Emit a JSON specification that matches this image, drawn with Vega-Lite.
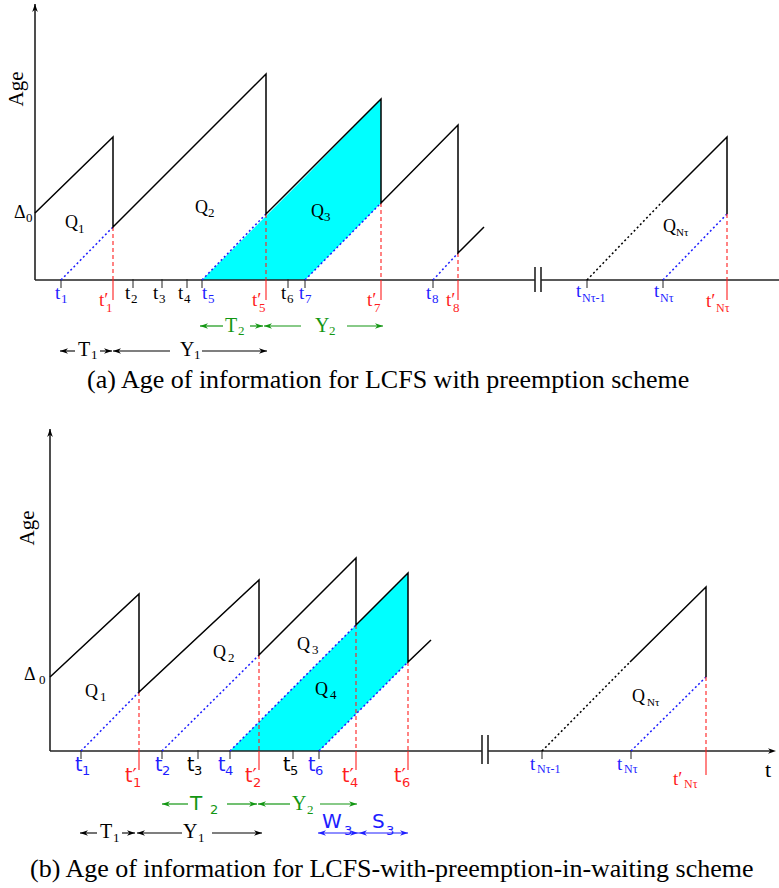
{
  "$schema": "https://vega.github.io/schema/vega-lite/v6.json",
  "padding": 0,
  "spacing": 0,
  "bounds": "flush",
  "config": {"view": {"stroke": null}},
  "datasets": {
    "segA": [
      {"t":0,"a":276,"t2":0,"a2":0,"k":"axis"},
      {"t":0,"a":0,"t2":500,"a2":0,"k":"axis"},
      {"t":506,"a":0,"t2":744,"a2":0,"k":"axis"},
      {"t":500,"a":13,"t2":500,"a2":-12,"k":"axis"},
      {"t":506,"a":13,"t2":506,"a2":-12,"k":"axis"},
      {"t":26,"a":1,"t2":26,"a2":-8,"k":"tick"},
      {"t":98,"a":1,"t2":98,"a2":-8,"k":"tick"},
      {"t":127,"a":1,"t2":127,"a2":-8,"k":"tick"},
      {"t":152,"a":1,"t2":152,"a2":-8,"k":"tick"},
      {"t":167,"a":1,"t2":167,"a2":-8,"k":"tick"},
      {"t":253,"a":1,"t2":253,"a2":-8,"k":"tick"},
      {"t":270,"a":1,"t2":270,"a2":-8,"k":"tick"},
      {"t":398,"a":1,"t2":398,"a2":-8,"k":"tick"},
      {"t":552,"a":1,"t2":552,"a2":-8,"k":"tick"},
      {"t":628,"a":1,"t2":628,"a2":-8,"k":"tick"},
      {"t":26,"a":0,"t2":78,"a2":53,"k":"bdot"},
      {"t":167,"a":0,"t2":231,"a2":66,"k":"bdot"},
      {"t":270,"a":0,"t2":346,"a2":77,"k":"bdot"},
      {"t":398,"a":0,"t2":423,"a2":27,"k":"bdot"},
      {"t":628,"a":0,"t2":692,"a2":66,"k":"bdot"},
      {"t":552,"a":0,"t2":628,"a2":79,"k":"kdot"},
      {"t":78,"a":53,"t2":78,"a2":0,"k":"rdash"},
      {"t":231,"a":66,"t2":231,"a2":0,"k":"rdash"},
      {"t":346,"a":77,"t2":346,"a2":0,"k":"rdash"},
      {"t":423,"a":27,"t2":423,"a2":0,"k":"rdash"},
      {"t":692,"a":66,"t2":692,"a2":0,"k":"rdash"},
      {"t":78,"a":0,"t2":78,"a2":-20,"k":"rsol"},
      {"t":231,"a":0,"t2":231,"a2":-20,"k":"rsol"},
      {"t":346,"a":0,"t2":346,"a2":-20,"k":"rsol"},
      {"t":423,"a":0,"t2":423,"a2":-20,"k":"rsol"},
      {"t":692,"a":0,"t2":692,"a2":-20,"k":"rsol"},
      {"t":165,"a":-46,"t2":188,"a2":-46,"k":"garr"},
      {"t":215,"a":-46,"t2":228,"a2":-46,"k":"garr"},
      {"t":229,"a":-46,"t2":266,"a2":-46,"k":"garr"},
      {"t":312,"a":-46,"t2":348,"a2":-46,"k":"garr"},
      {"t":25,"a":-71,"t2":40,"a2":-71,"k":"karr"},
      {"t":65,"a":-71,"t2":77,"a2":-71,"k":"karr"},
      {"t":78,"a":-71,"t2":135,"a2":-71,"k":"karr"},
      {"t":167,"a":-71,"t2":232,"a2":-71,"k":"karr"}
    ],
    "ageA": [
      {"g":"run","o":1,"t":0,"a":67},
      {"g":"run","o":2,"t":78,"a":143},
      {"g":"run","o":3,"t":78,"a":53},
      {"g":"run","o":4,"t":231,"a":206},
      {"g":"run","o":5,"t":231,"a":66},
      {"g":"run","o":6,"t":346,"a":181},
      {"g":"run","o":7,"t":346,"a":77},
      {"g":"run","o":8,"t":423,"a":155},
      {"g":"run","o":9,"t":423,"a":27},
      {"g":"run","o":10,"t":449,"a":53},
      {"g":"end","o":1,"t":628,"a":79},
      {"g":"end","o":2,"t":692,"a":143},
      {"g":"end","o":3,"t":692,"a":66}
    ],
    "cyanA": [
      {"t":167,"a":0,"a2":0},
      {"t":270,"a":103,"a2":0},
      {"t":346,"a":181,"a2":77}
    ],
    "headA": [
      {"t":0,"a":276,"d":"U","c":"ink"},
      {"t":165,"a":-46,"d":"L","c":"green"},
      {"t":228,"a":-46,"d":"R","c":"green"},
      {"t":229,"a":-46,"d":"L","c":"green"},
      {"t":348,"a":-46,"d":"R","c":"green"},
      {"t":25,"a":-71,"d":"L","c":"ink"},
      {"t":77,"a":-71,"d":"R","c":"ink"},
      {"t":78,"a":-71,"d":"L","c":"ink"},
      {"t":232,"a":-71,"d":"R","c":"ink"}
    ],
    "textA": [
      {"t":20,"a":-19,"s":"t","c":"blue","z":"label","f":"serif"},
      {"t":26,"a":-23,"s":"1","c":"blue","z":"index","f":"serif"},
      {"t":64,"a":-26,"s":"t′","c":"red","z":"label","f":"serif"},
      {"t":71,"a":-32,"s":"1","c":"red","z":"index","f":"serif"},
      {"t":90,"a":-19,"s":"t","c":"ink","z":"label","f":"serif"},
      {"t":96,"a":-23,"s":"2","c":"ink","z":"index","f":"serif"},
      {"t":118,"a":-19,"s":"t","c":"ink","z":"label","f":"serif"},
      {"t":124,"a":-23,"s":"3","c":"ink","z":"index","f":"serif"},
      {"t":143,"a":-19,"s":"t","c":"ink","z":"label","f":"serif"},
      {"t":149,"a":-23,"s":"4","c":"ink","z":"index","f":"serif"},
      {"t":167,"a":-19,"s":"t","c":"blue","z":"label","f":"serif"},
      {"t":173,"a":-23,"s":"5","c":"blue","z":"index","f":"serif"},
      {"t":217,"a":-26,"s":"t′","c":"red","z":"label","f":"serif"},
      {"t":224,"a":-32,"s":"5","c":"red","z":"index","f":"serif"},
      {"t":246,"a":-19,"s":"t","c":"ink","z":"label","f":"serif"},
      {"t":252,"a":-23,"s":"6","c":"ink","z":"index","f":"serif"},
      {"t":264,"a":-19,"s":"t","c":"blue","z":"label","f":"serif"},
      {"t":270,"a":-23,"s":"7","c":"blue","z":"index","f":"serif"},
      {"t":332,"a":-26,"s":"t′","c":"red","z":"label","f":"serif"},
      {"t":339,"a":-32,"s":"7","c":"red","z":"index","f":"serif"},
      {"t":391,"a":-19,"s":"t","c":"blue","z":"label","f":"serif"},
      {"t":397,"a":-23,"s":"8","c":"blue","z":"index","f":"serif"},
      {"t":411,"a":-26,"s":"t′","c":"red","z":"label","f":"serif"},
      {"t":418,"a":-32,"s":"8","c":"red","z":"index","f":"serif"},
      {"t":541,"a":-17,"s":"t","c":"blue","z":"label","f":"serif"},
      {"t":547,"a":-22,"s":"Nτ-1","c":"blue","z":"nindex","f":"serif"},
      {"t":619,"a":-17,"s":"t","c":"blue","z":"label","f":"serif"},
      {"t":625,"a":-22,"s":"Nτ","c":"blue","z":"nindex","f":"serif"},
      {"t":671,"a":-27,"s":"t′","c":"red","z":"label","f":"serif"},
      {"t":681,"a":-32,"s":"Nτ","c":"red","z":"nindex","f":"serif"},
      {"t":30,"a":52,"s":"Q","c":"ink","z":"region","f":"serif"},
      {"t":43,"a":47,"s":"1","c":"ink","z":"index","f":"serif"},
      {"t":160,"a":67,"s":"Q","c":"ink","z":"region","f":"serif"},
      {"t":173,"a":63,"s":"2","c":"ink","z":"index","f":"serif"},
      {"t":276,"a":63,"s":"Q","c":"ink","z":"region","f":"serif"},
      {"t":289,"a":59,"s":"3","c":"ink","z":"index","f":"serif"},
      {"t":628,"a":48,"s":"Q","c":"ink","z":"region","f":"serif"},
      {"t":641,"a":44,"s":"Nτ","c":"ink","z":"tiny","f":"serif"},
      {"t":-21,"a":62,"s":"Δ","c":"ink","z":"region","f":"serif"},
      {"t":-9,"a":58,"s":"0","c":"ink","z":"index","f":"serif"},
      {"t":190,"a":-52,"s":"T","c":"green","z":"letter","f":"serif"},
      {"t":203,"a":-55,"s":"2","c":"green","z":"index","f":"serif"},
      {"t":280,"a":-52,"s":"Y","c":"green","z":"letter","f":"serif"},
      {"t":294,"a":-55,"s":"2","c":"green","z":"index","f":"serif"},
      {"t":43,"a":-76,"s":"T","c":"ink","z":"letter","f":"serif"},
      {"t":56,"a":-79,"s":"1","c":"ink","z":"index","f":"serif"},
      {"t":145,"a":-76,"s":"Y","c":"ink","z":"letter","f":"serif"},
      {"t":159,"a":-79,"s":"1","c":"ink","z":"index","f":"serif"},
      {"t":52,"a":-108,"s":"(a) Age of information for LCFS with preemption scheme","c":"ink","z":"caption","f":"serif"},
      {"t":-18,"a":191,"s":"Age","c":"ink","z":"age","f":"rot"}
    ],
    "segB": [
      {"t":0,"a":322,"t2":0,"a2":0,"k":"axis"},
      {"t":0,"a":0,"t2":432,"a2":0,"k":"axis"},
      {"t":438,"a":0,"t2":722,"a2":0,"k":"axis"},
      {"t":432,"a":16,"t2":432,"a2":-13,"k":"axis"},
      {"t":438,"a":16,"t2":438,"a2":-13,"k":"axis"},
      {"t":31,"a":1,"t2":31,"a2":-8,"k":"tick"},
      {"t":112,"a":1,"t2":112,"a2":-8,"k":"tick"},
      {"t":148,"a":1,"t2":148,"a2":-8,"k":"tick"},
      {"t":180,"a":1,"t2":180,"a2":-8,"k":"tick"},
      {"t":243,"a":1,"t2":243,"a2":-8,"k":"tick"},
      {"t":269,"a":1,"t2":269,"a2":-8,"k":"tick"},
      {"t":492,"a":1,"t2":492,"a2":-8,"k":"tick"},
      {"t":581,"a":1,"t2":581,"a2":-8,"k":"tick"},
      {"t":31,"a":0,"t2":89,"a2":59,"k":"bdot"},
      {"t":112,"a":0,"t2":209,"a2":96,"k":"bdot"},
      {"t":180,"a":0,"t2":306,"a2":126,"k":"bdot"},
      {"t":269,"a":0,"t2":358,"a2":89,"k":"bdot"},
      {"t":581,"a":0,"t2":656,"a2":74,"k":"bdot"},
      {"t":492,"a":0,"t2":580,"a2":89,"k":"kdot"},
      {"t":89,"a":59,"t2":89,"a2":0,"k":"rdash"},
      {"t":209,"a":96,"t2":209,"a2":0,"k":"rdash"},
      {"t":306,"a":126,"t2":306,"a2":0,"k":"rdash"},
      {"t":358,"a":89,"t2":358,"a2":0,"k":"rdash"},
      {"t":656,"a":74,"t2":656,"a2":0,"k":"rdash"},
      {"t":89,"a":0,"t2":89,"a2":-19,"k":"rsol"},
      {"t":209,"a":0,"t2":209,"a2":-19,"k":"rsol"},
      {"t":306,"a":0,"t2":306,"a2":-19,"k":"rsol"},
      {"t":358,"a":0,"t2":358,"a2":-19,"k":"rsol"},
      {"t":656,"a":0,"t2":656,"a2":-24,"k":"rsol"},
      {"t":112,"a":-53,"t2":138,"a2":-53,"k":"garr"},
      {"t":177,"a":-53,"t2":207,"a2":-53,"k":"garr"},
      {"t":208,"a":-53,"t2":240,"a2":-53,"k":"garr"},
      {"t":270,"a":-53,"t2":307,"a2":-53,"k":"garr"},
      {"t":30,"a":-82,"t2":47,"a2":-82,"k":"karr"},
      {"t":72,"a":-82,"t2":85,"a2":-82,"k":"karr"},
      {"t":87,"a":-82,"t2":132,"a2":-82,"k":"karr"},
      {"t":162,"a":-82,"t2":212,"a2":-82,"k":"karr"},
      {"t":268,"a":-82,"t2":308,"a2":-82,"k":"barr"},
      {"t":308,"a":-82,"t2":358,"a2":-82,"k":"barr"}
    ],
    "ageB": [
      {"g":"run","o":1,"t":0,"a":74},
      {"g":"run","o":2,"t":89,"a":157},
      {"g":"run","o":3,"t":89,"a":59},
      {"g":"run","o":4,"t":209,"a":171},
      {"g":"run","o":5,"t":209,"a":96},
      {"g":"run","o":6,"t":306,"a":193},
      {"g":"run","o":7,"t":306,"a":126},
      {"g":"run","o":8,"t":358,"a":178},
      {"g":"run","o":9,"t":358,"a":89},
      {"g":"run","o":10,"t":381,"a":111},
      {"g":"end","o":1,"t":580,"a":89},
      {"g":"end","o":2,"t":656,"a":164},
      {"g":"end","o":3,"t":656,"a":74}
    ],
    "cyanB": [
      {"t":180,"a":0,"a2":0},
      {"t":269,"a":89,"a2":0},
      {"t":358,"a":178,"a2":89}
    ],
    "headB": [
      {"t":0,"a":322,"d":"U","c":"ink"},
      {"t":726,"a":0,"d":"R","c":"ink"},
      {"t":112,"a":-53,"d":"L","c":"green"},
      {"t":207,"a":-53,"d":"R","c":"green"},
      {"t":208,"a":-53,"d":"L","c":"green"},
      {"t":307,"a":-53,"d":"R","c":"green"},
      {"t":30,"a":-82,"d":"L","c":"ink"},
      {"t":85,"a":-82,"d":"R","c":"ink"},
      {"t":87,"a":-82,"d":"L","c":"ink"},
      {"t":212,"a":-82,"d":"R","c":"ink"},
      {"t":268,"a":-82,"d":"L","c":"blue"},
      {"t":308,"a":-82,"d":"R","c":"blue"},
      {"t":309,"a":-82,"d":"L","c":"blue"},
      {"t":358,"a":-82,"d":"R","c":"blue"}
    ],
    "textB": [
      {"t":25,"a":-20,"s":"t","c":"blue","z":"slabel","f":"sans"},
      {"t":32,"a":-24,"s":"1","c":"blue","z":"sindex","f":"sans"},
      {"t":75,"a":-31,"s":"t′","c":"red","z":"slabel","f":"sans"},
      {"t":83,"a":-36,"s":"1","c":"red","z":"sindex","f":"sans"},
      {"t":105,"a":-20,"s":"t","c":"blue","z":"slabel","f":"sans"},
      {"t":112,"a":-24,"s":"2","c":"blue","z":"sindex","f":"sans"},
      {"t":137,"a":-20,"s":"t","c":"ink","z":"slabel","f":"sans"},
      {"t":144,"a":-24,"s":"3","c":"ink","z":"sindex","f":"sans"},
      {"t":168,"a":-20,"s":"t","c":"blue","z":"slabel","f":"sans"},
      {"t":175,"a":-24,"s":"4","c":"blue","z":"sindex","f":"sans"},
      {"t":195,"a":-31,"s":"t′","c":"red","z":"slabel","f":"sans"},
      {"t":203,"a":-36,"s":"2","c":"red","z":"sindex","f":"sans"},
      {"t":233,"a":-20,"s":"t","c":"ink","z":"slabel","f":"sans"},
      {"t":240,"a":-24,"s":"5","c":"ink","z":"sindex","f":"sans"},
      {"t":258,"a":-20,"s":"t","c":"blue","z":"slabel","f":"sans"},
      {"t":265,"a":-24,"s":"6","c":"blue","z":"sindex","f":"sans"},
      {"t":292,"a":-31,"s":"t′","c":"red","z":"slabel","f":"sans"},
      {"t":300,"a":-36,"s":"4","c":"red","z":"sindex","f":"sans"},
      {"t":344,"a":-31,"s":"t′","c":"red","z":"slabel","f":"sans"},
      {"t":352,"a":-36,"s":"6","c":"red","z":"sindex","f":"sans"},
      {"t":140,"a":-59,"s":"T","c":"green","z":"letter","f":"sans"},
      {"t":160,"a":-63,"s":"2","c":"green","z":"sindex","f":"sans"},
      {"t":272,"a":-77,"s":"W","c":"blue","z":"letter","f":"sans"},
      {"t":294,"a":-84,"s":"3","c":"blue","z":"sindex","f":"sans"},
      {"t":322,"a":-77,"s":"S","c":"blue","z":"letter","f":"sans"},
      {"t":336,"a":-84,"s":"3","c":"blue","z":"sindex","f":"sans"},
      {"t":480,"a":-19,"s":"t","c":"blue","z":"label","f":"serif"},
      {"t":487,"a":-22,"s":"Nτ-1","c":"blue","z":"nindex","f":"serif"},
      {"t":567,"a":-19,"s":"t","c":"blue","z":"label","f":"serif"},
      {"t":574,"a":-22,"s":"Nτ","c":"blue","z":"nindex","f":"serif"},
      {"t":623,"a":-34,"s":"t′","c":"red","z":"label","f":"serif"},
      {"t":634,"a":-37,"s":"Nτ","c":"red","z":"nindex","f":"serif"},
      {"t":715,"a":-26,"s":"t","c":"ink","z":"axis","f":"serif"},
      {"t":35,"a":54,"s":"Q","c":"ink","z":"region","f":"serif"},
      {"t":50,"a":50,"s":"1","c":"ink","z":"index","f":"serif"},
      {"t":163,"a":93,"s":"Q","c":"ink","z":"region","f":"serif"},
      {"t":178,"a":89,"s":"2","c":"ink","z":"index","f":"serif"},
      {"t":247,"a":101,"s":"Q","c":"ink","z":"region","f":"serif"},
      {"t":262,"a":97,"s":"3","c":"ink","z":"index","f":"serif"},
      {"t":265,"a":56,"s":"Q","c":"ink","z":"region","f":"serif"},
      {"t":280,"a":52,"s":"4","c":"ink","z":"index","f":"serif"},
      {"t":582,"a":49,"s":"Q","c":"ink","z":"region","f":"serif"},
      {"t":597,"a":45,"s":"Nτ","c":"ink","z":"tiny","f":"serif"},
      {"t":-26,"a":71,"s":"Δ","c":"ink","z":"region","f":"serif"},
      {"t":-11,"a":67,"s":"0","c":"ink","z":"index","f":"serif"},
      {"t":242,"a":-59,"s":"Y","c":"green","z":"letter","f":"serif"},
      {"t":257,"a":-63,"s":"2","c":"green","z":"index","f":"serif"},
      {"t":50,"a":-87,"s":"T","c":"ink","z":"letter","f":"serif"},
      {"t":63,"a":-91,"s":"1","c":"ink","z":"index","f":"serif"},
      {"t":133,"a":-87,"s":"Y","c":"ink","z":"letter","f":"serif"},
      {"t":148,"a":-91,"s":"1","c":"ink","z":"index","f":"serif"},
      {"t":-20,"a":-126,"s":"(b) Age of information for LCFS-with-preemption-in-waiting scheme","c":"ink","z":"caption","f":"serif"},
      {"t":-22,"a":223,"s":"Age","c":"ink","z":"age","f":"rot"}
    ]
  },
  "vconcat": [
    {
      "width": 779,
      "height": 415,
      "encoding": {
        "x": {"field": "t", "type": "quantitative", "scale": {"domain": [-35, 744], "nice": false, "zero": false}, "axis": null},
        "y": {"field": "a", "type": "quantitative", "scale": {"domain": [-135, 280], "nice": false, "zero": false}, "axis": null}
      },
      "layer": [
        {"data": {"name": "cyanA"}, "mark": {"type": "area", "color": "#00ffff", "opacity": 1}, "encoding": {"y2": {"field": "a2"}}},
        {"data": {"name": "segA"}, "transform": [{"filter": "datum.k === 'axis'"}], "mark": {"type": "rule", "color": "#222222", "strokeWidth": 1.6}, "encoding": {"x2": {"field": "t2"}, "y2": {"field": "a2"}}},
        {"data": {"name": "segA"}, "transform": [{"filter": "datum.k === 'tick'"}], "mark": {"type": "rule", "color": "#222222", "strokeWidth": 1}, "encoding": {"x2": {"field": "t2"}, "y2": {"field": "a2"}}},
        {"data": {"name": "segA"}, "transform": [{"filter": "datum.k === 'bdot'"}], "mark": {"type": "rule", "color": "#1e1eff", "strokeWidth": 1.5, "strokeDash": [2, 2.5]}, "encoding": {"x2": {"field": "t2"}, "y2": {"field": "a2"}}},
        {"data": {"name": "segA"}, "transform": [{"filter": "datum.k === 'kdot'"}], "mark": {"type": "rule", "color": "#000000", "strokeWidth": 1.5, "strokeDash": [2, 2.5]}, "encoding": {"x2": {"field": "t2"}, "y2": {"field": "a2"}}},
        {"data": {"name": "segA"}, "transform": [{"filter": "datum.k === 'rdash'"}], "mark": {"type": "rule", "color": "#ff1e1e", "strokeWidth": 1.1, "strokeDash": [4, 3]}, "encoding": {"x2": {"field": "t2"}, "y2": {"field": "a2"}}},
        {"data": {"name": "segA"}, "transform": [{"filter": "datum.k === 'rsol'"}], "mark": {"type": "rule", "color": "#ff1e1e", "strokeWidth": 1.1}, "encoding": {"x2": {"field": "t2"}, "y2": {"field": "a2"}}},
        {"data": {"name": "segA"}, "transform": [{"filter": "datum.k === 'garr'"}], "mark": {"type": "rule", "color": "#129612", "strokeWidth": 1.2}, "encoding": {"x2": {"field": "t2"}, "y2": {"field": "a2"}}},
        {"data": {"name": "segA"}, "transform": [{"filter": "datum.k === 'karr'"}], "mark": {"type": "rule", "color": "#000000", "strokeWidth": 1.1}, "encoding": {"x2": {"field": "t2"}, "y2": {"field": "a2"}}},
        {"data": {"name": "ageA"}, "mark": {"type": "line", "color": "#000000", "strokeWidth": 1.5}, "encoding": {"detail": {"field": "g", "type": "nominal"}, "order": {"field": "o", "type": "quantitative"}}},
        {"data": {"name": "headA"}, "mark": {"type": "point", "filled": true, "size": 64, "opacity": 1, "strokeWidth": 0},
         "encoding": {
           "shape": {"field": "d", "type": "nominal", "scale": {"domain": ["R", "L", "U"], "range": ["M0,0L-2,-0.7L-1.4,0L-2,0.7Z", "M0,0L2,-0.7L1.4,0L2,0.7Z", "M0,0L-0.7,2L0,1.4L0.7,2Z"]}, "legend": null},
           "color": {"field": "c", "type": "nominal", "scale": {"domain": ["ink", "blue", "red", "green"], "range": ["#000000", "#1e1eff", "#ff1e1e", "#129612"]}, "legend": null}
         }},
        {"data": {"name": "textA"}, "transform": [{"filter": "datum.f === 'serif'"}], "mark": {"type": "text", "font": "Liberation Serif", "align": "left", "baseline": "alphabetic"},
         "encoding": {
           "text": {"field": "s"},
           "color": {"field": "c", "type": "nominal", "scale": {"domain": ["ink", "blue", "red", "green"], "range": ["#000000", "#1e1eff", "#ff1e1e", "#129612"]}, "legend": null},
           "size": {"field": "z", "type": "nominal", "scale": {"type": "ordinal", "domain": ["label", "index", "nindex", "tiny", "region", "letter", "caption", "age", "axis", "slabel", "sindex"], "range": [19, 13, 12, 11, 18, 20, 26, 21, 22, 19, 13]}, "legend": null}
         }},
        {"data": {"name": "textA"}, "transform": [{"filter": "datum.f === 'rot'"}], "mark": {"type": "text", "font": "Liberation Serif", "align": "center", "baseline": "middle", "angle": 270},
         "encoding": {
           "text": {"field": "s"},
           "color": {"field": "c", "type": "nominal", "scale": {"domain": ["ink", "blue", "red", "green"], "range": ["#000000", "#1e1eff", "#ff1e1e", "#129612"]}, "legend": null},
           "size": {"field": "z", "type": "nominal", "scale": {"type": "ordinal", "domain": ["label", "index", "nindex", "tiny", "region", "letter", "caption", "age", "axis", "slabel", "sindex"], "range": [19, 13, 12, 11, 18, 20, 26, 21, 22, 19, 13]}, "legend": null}
         }}
      ]
    },
    {
      "width": 779,
      "height": 473,
      "encoding": {
        "x": {"field": "t", "type": "quantitative", "scale": {"domain": [-50, 729], "nice": false, "zero": false}, "axis": null},
        "y": {"field": "a", "type": "quantitative", "scale": {"domain": [-137, 336], "nice": false, "zero": false}, "axis": null}
      },
      "layer": [
        {"data": {"name": "cyanB"}, "mark": {"type": "area", "color": "#00ffff", "opacity": 1}, "encoding": {"y2": {"field": "a2"}}},
        {"data": {"name": "segB"}, "transform": [{"filter": "datum.k === 'axis'"}], "mark": {"type": "rule", "color": "#222222", "strokeWidth": 1.6}, "encoding": {"x2": {"field": "t2"}, "y2": {"field": "a2"}}},
        {"data": {"name": "segB"}, "transform": [{"filter": "datum.k === 'tick'"}], "mark": {"type": "rule", "color": "#222222", "strokeWidth": 1}, "encoding": {"x2": {"field": "t2"}, "y2": {"field": "a2"}}},
        {"data": {"name": "segB"}, "transform": [{"filter": "datum.k === 'bdot'"}], "mark": {"type": "rule", "color": "#1e1eff", "strokeWidth": 1.5, "strokeDash": [2, 2.5]}, "encoding": {"x2": {"field": "t2"}, "y2": {"field": "a2"}}},
        {"data": {"name": "segB"}, "transform": [{"filter": "datum.k === 'kdot'"}], "mark": {"type": "rule", "color": "#000000", "strokeWidth": 1.5, "strokeDash": [2, 2.5]}, "encoding": {"x2": {"field": "t2"}, "y2": {"field": "a2"}}},
        {"data": {"name": "segB"}, "transform": [{"filter": "datum.k === 'rdash'"}], "mark": {"type": "rule", "color": "#ff1e1e", "strokeWidth": 1.1, "strokeDash": [4, 3]}, "encoding": {"x2": {"field": "t2"}, "y2": {"field": "a2"}}},
        {"data": {"name": "segB"}, "transform": [{"filter": "datum.k === 'rsol'"}], "mark": {"type": "rule", "color": "#ff1e1e", "strokeWidth": 1.1}, "encoding": {"x2": {"field": "t2"}, "y2": {"field": "a2"}}},
        {"data": {"name": "segB"}, "transform": [{"filter": "datum.k === 'garr'"}], "mark": {"type": "rule", "color": "#129612", "strokeWidth": 1.2}, "encoding": {"x2": {"field": "t2"}, "y2": {"field": "a2"}}},
        {"data": {"name": "segB"}, "transform": [{"filter": "datum.k === 'karr'"}], "mark": {"type": "rule", "color": "#000000", "strokeWidth": 1.1}, "encoding": {"x2": {"field": "t2"}, "y2": {"field": "a2"}}},
        {"data": {"name": "segB"}, "transform": [{"filter": "datum.k === 'barr'"}], "mark": {"type": "rule", "color": "#1e1eff", "strokeWidth": 1.1}, "encoding": {"x2": {"field": "t2"}, "y2": {"field": "a2"}}},
        {"data": {"name": "ageB"}, "mark": {"type": "line", "color": "#000000", "strokeWidth": 1.5}, "encoding": {"detail": {"field": "g", "type": "nominal"}, "order": {"field": "o", "type": "quantitative"}}},
        {"data": {"name": "headB"}, "mark": {"type": "point", "filled": true, "size": 64, "opacity": 1, "strokeWidth": 0},
         "encoding": {
           "shape": {"field": "d", "type": "nominal", "scale": {"domain": ["R", "L", "U"], "range": ["M0,0L-2,-0.7L-1.4,0L-2,0.7Z", "M0,0L2,-0.7L1.4,0L2,0.7Z", "M0,0L-0.7,2L0,1.4L0.7,2Z"]}, "legend": null},
           "color": {"field": "c", "type": "nominal", "scale": {"domain": ["ink", "blue", "red", "green"], "range": ["#000000", "#1e1eff", "#ff1e1e", "#129612"]}, "legend": null}
         }},
        {"data": {"name": "textB"}, "transform": [{"filter": "datum.f === 'serif'"}], "mark": {"type": "text", "font": "Liberation Serif", "align": "left", "baseline": "alphabetic"},
         "encoding": {
           "text": {"field": "s"},
           "color": {"field": "c", "type": "nominal", "scale": {"domain": ["ink", "blue", "red", "green"], "range": ["#000000", "#1e1eff", "#ff1e1e", "#129612"]}, "legend": null},
           "size": {"field": "z", "type": "nominal", "scale": {"type": "ordinal", "domain": ["label", "index", "nindex", "tiny", "region", "letter", "caption", "age", "axis", "slabel", "sindex"], "range": [20, 14, 12, 11, 21, 21, 26, 23, 24, 19, 14]}, "legend": null}
         }},
        {"data": {"name": "textB"}, "transform": [{"filter": "datum.f === 'sans'"}], "mark": {"type": "text", "font": "DejaVu Sans", "align": "left", "baseline": "alphabetic"},
         "encoding": {
           "text": {"field": "s"},
           "color": {"field": "c", "type": "nominal", "scale": {"domain": ["ink", "blue", "red", "green"], "range": ["#000000", "#1e1eff", "#ff1e1e", "#129612"]}, "legend": null},
           "size": {"field": "z", "type": "nominal", "scale": {"type": "ordinal", "domain": ["label", "index", "nindex", "tiny", "region", "letter", "caption", "age", "axis", "slabel", "sindex"], "range": [20, 14, 12, 11, 21, 21, 26, 23, 24, 19, 14]}, "legend": null}
         }},
        {"data": {"name": "textB"}, "transform": [{"filter": "datum.f === 'rot'"}], "mark": {"type": "text", "font": "Liberation Serif", "align": "center", "baseline": "middle", "angle": 270},
         "encoding": {
           "text": {"field": "s"},
           "color": {"field": "c", "type": "nominal", "scale": {"domain": ["ink", "blue", "red", "green"], "range": ["#000000", "#1e1eff", "#ff1e1e", "#129612"]}, "legend": null},
           "size": {"field": "z", "type": "nominal", "scale": {"type": "ordinal", "domain": ["label", "index", "nindex", "tiny", "region", "letter", "caption", "age", "axis", "slabel", "sindex"], "range": [20, 14, 12, 11, 21, 21, 26, 23, 24, 19, 14]}, "legend": null}
         }}
      ]
    }
  ]
}
